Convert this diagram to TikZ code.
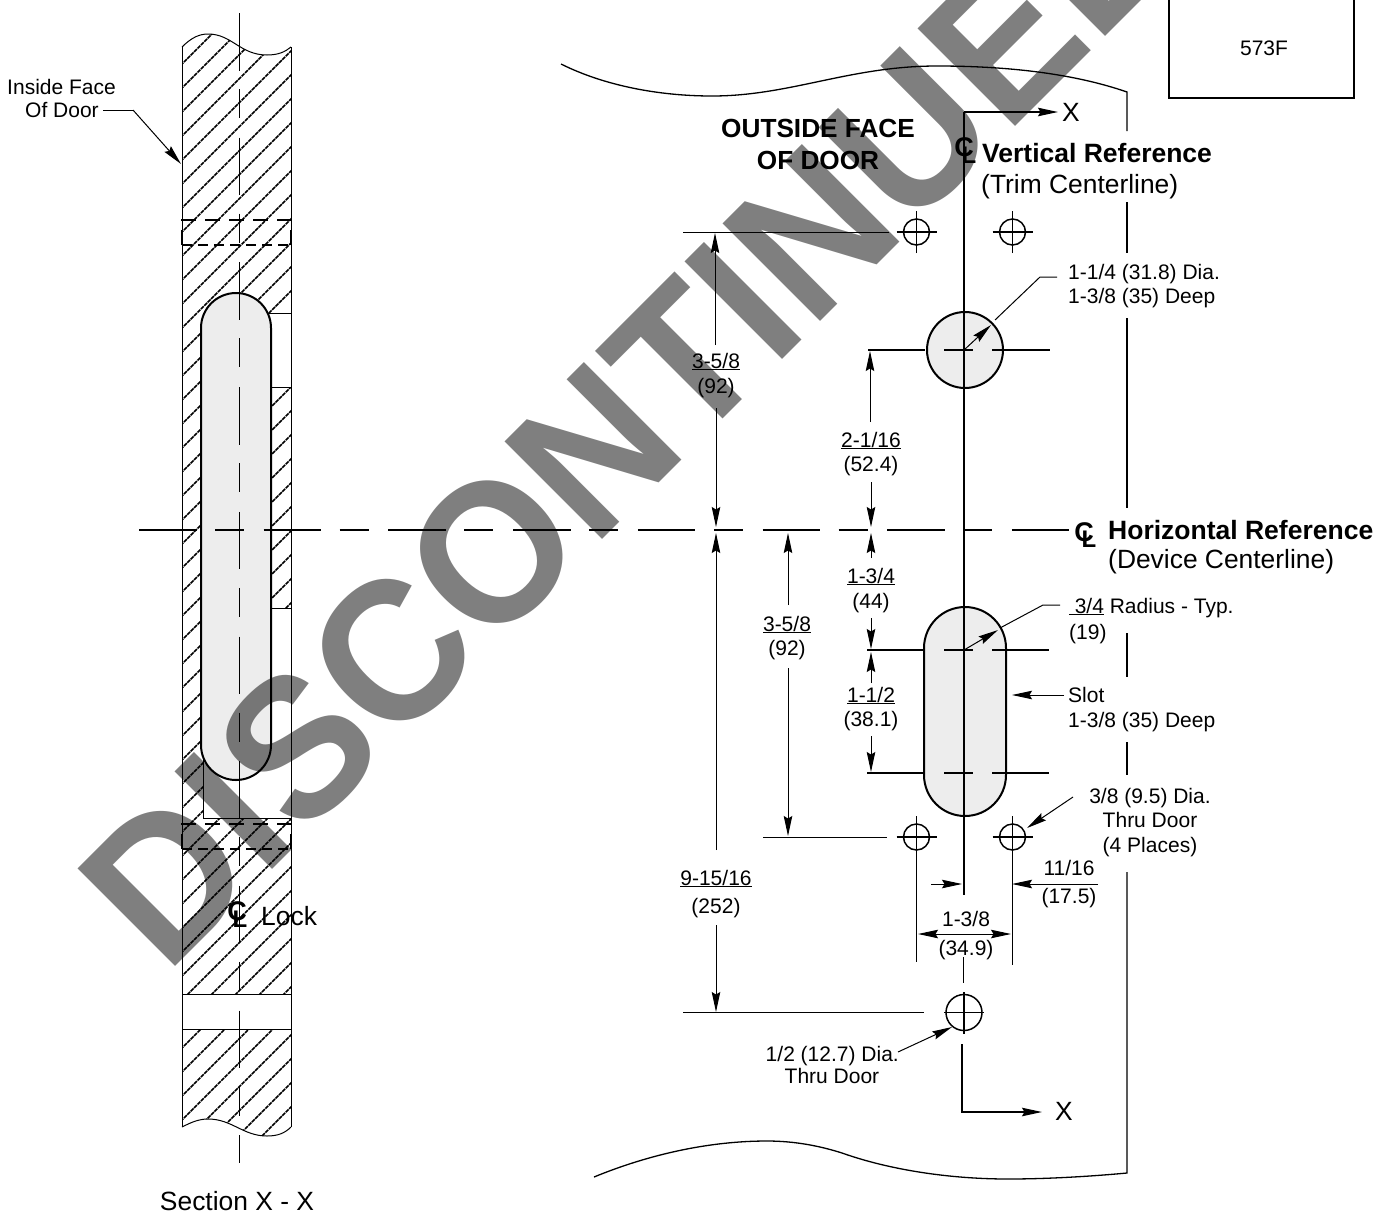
\documentclass[tikz,border=0pt]{standalone}
\usepackage{graphicx}
\usepackage{fontspec}
\setmainfont{Liberation Sans}
\usetikzlibrary{arrows.meta}
\definecolor{pocket}{HTML}{EDEDED}
\tikzset{
  lab/.style={inner sep=0pt,font=\fontsize{21pt}{24pt}\selectfont,anchor=base},
  bigt/.style={inner sep=0pt,font=\fontsize{26.4pt}{30pt}\selectfont,anchor=base},
  bigb/.style={inner sep=0pt,font=\fontsize{26.5pt}{30pt}\selectfont\bfseries,anchor=base},
  faceb/.style={inner sep=0pt,font=\fontsize{26.2pt}{30pt}\selectfont\bfseries,anchor=base},
  clc/.style={inner sep=0pt,font=\fontsize{27pt}{30pt}\selectfont\bfseries,anchor=center},
  cll/.style={inner sep=0pt,font=\fontsize{24pt}{30pt}\selectfont\bfseries,anchor=center},
  thin line/.style={line width=1pt,black},
  med line/.style={line width=1.5pt,black},
  thick line/.style={line width=2pt,black},
  dim/.style={line width=1pt,black,-{Stealth[length=20pt,width=8.5pt,inset=2.5pt]}},
  dimb/.style={line width=1pt,black,{Stealth[length=20pt,width=8.5pt,inset=2.5pt]}-{Stealth[length=20pt,width=8.5pt,inset=2.5pt]}},
  center long/.style={line width=1.5pt,black,dash pattern=on 57.5pt off 18.5pt on 29pt off 19.7pt},
  hatch/.style={line width=1.5pt,black,dash pattern=on 4pt off 0.8pt},
  hidden a/.style={line width=1.3pt,black,dash pattern=on 15pt off 9pt},
  hidden b/.style={line width=1.3pt,black,dash pattern=on 10pt off 6pt},
  wm/.style={inner sep=0pt,anchor=base west,rotate=45,text=black,text opacity=0.5,font=\fontsize{191pt}{200pt}\selectfont\bfseries}
}
\newcommand{\tgt}[4]{% name, x, y, r
  \node[inner sep=0pt,minimum size=0pt] (#1) at (#2,#3) {};
  \draw[med line] (#1) circle (#4pt);
  \draw[med line] ([xshift=-20pt]#1.center) -- ([xshift=20pt]#1.center);
  \draw[med line] ([yshift=-21pt]#1.center) -- ([yshift=21pt]#1.center);
}
\begin{document}
\begin{tikzpicture}[x=1pt,y=-1pt]
\useasboundingbox (0,0) rectangle (1377,1211);
% ---------- left section ----------
\begin{scope}
 \clip (182,47) .. controls (192,37) and (200,34) .. (208,34) .. controls (232,34) and (240,55) .. (267,55) .. controls (278,55) and (285,52) .. (291,47) -- (291,1127) .. controls (285,1133) and (278,1136) .. (267,1136) .. controls (243,1136) and (232,1119) .. (208,1119) .. controls (198,1119) and (190,1123) .. (182,1127) -- cycle;
 \foreach \k in {0,...,60} {
   \pgfmathsetmacro{\c}{222+24*\k}
   \draw[hatch] (150,\c-150) -- (320,\c-320);
 }
\end{scope}
\draw[thin line] (182,47) .. controls (192,37) and (200,34) .. (208,34) .. controls (232,34) and (240,55) .. (267,55) .. controls (278,55) and (285,52) .. (291,47);
\draw[thin line] (182,1127) .. controls (190,1123) and (198,1119) .. (208,1119) .. controls (232,1119) and (243,1136) .. (267,1136) .. controls (278,1136) and (285,1133) .. (291,1127);
\draw[thin line] (182,47) -- (182,1127);
\draw[thin line] (291,47) -- (291,1127);
\draw[thin line,fill=white] (262,313) rectangle (291,387);
\draw[thin line,fill=white] (203,608) rectangle (291,818);
\draw[thin line,fill=white] (182,994) rectangle (291,1029);
\draw[thick line,fill=pocket] (201,328) arc[start angle=180,end angle=360,x radius=35,y radius=35] -- (271,745) arc[start angle=0,end angle=180,x radius=35,y radius=35] -- cycle;
\draw[hidden a] (182,245) -- (182,220) -- (291,220) -- (291,245);
\draw[hidden b] (182,245) -- (291,245);
\draw[hidden a] (182,849) -- (182,824) -- (291,824) -- (291,849);
\draw[hidden b] (182,849) -- (291,849);
\draw[center long] (239.5,13) -- (239.5,1163);
% ---------- right door ----------
\draw[med line,line width=1.3pt] (561,64) .. controls (605,86) and (660,96) .. (712,96) .. controls (790,96) and (850,66) .. (937,66) .. controls (1010,66) and (1075,74) .. (1127,92) -- (1127,131);
\draw[med line] (1127,202) -- (1127,253);
\draw[med line] (1127,318) -- (1127,508);
\draw[med line] (1127,633) -- (1127,677);
\draw[med line] (1127,742) -- (1127,775);
\draw[med line,line width=1.3pt] (594,1177) .. controls (650,1154) and (710,1141) .. (767,1141) .. controls (795,1141) and (820,1146) .. (842,1153) .. controls (890,1170) and (950,1179) .. (1008,1179) .. controls (1050,1179) and (1095,1176) .. (1127,1173) -- (1127,872);
% prep box
\draw[thick line] (1169,-5) -- (1169,98) -- (1354,98) -- (1354,-5);
\node[inner sep=0pt,font=\fontsize{21pt}{24pt}\selectfont] (box) at (1264,48) {573F};
% round hole
\draw[thick line,fill=pocket] (965,350) circle (38pt);
% slot
\draw[thick line,fill=pocket] (924,648) arc[start angle=180,end angle=360,x radius=41,y radius=41] -- (1006,775) arc[start angle=0,end angle=180,x radius=41,y radius=41] -- cycle;
% center lines
\draw[center long] (139,530) -- (1070,530);
\draw[med line] (964,112) -- (964,895);
\draw[dim,line width=1.5pt] (964,112) -- (1058,112);
\node[bigt] (xtop) at (1071,121) {X};
\draw[med line] (963.5,957) -- (963.5,983);
\draw[dim,line width=1.5pt] (962,1044) -- (962,1112) -- (1042,1112);
\node[bigt] (xbot) at (1064,1120) {X};
% feature lines
\draw[med line] (868,350) -- (925,350);
\draw[med line] (944,350) -- (973,350);
\draw[med line] (992,350) -- (1050,350);
\draw[med line] (867,650) -- (924,650);
\draw[med line] (944,650) -- (973,650);
\draw[med line] (992,650) -- (1049,650);
\draw[med line] (867,773) -- (924,773);
\draw[med line] (944,773) -- (973,773);
\draw[med line] (992,773) -- (1049,773);
% targets
\tgt{ta}{916.5}{232}{13}
\tgt{tb}{1012.5}{232}{13}
\tgt{tc}{916.5}{837}{13}
\tgt{td}{1012.5}{837}{13}
\tgt{te}{964}{1012.5}{18}
% extension lines
\draw[thin line] (683,232.5) -- (889,232.5);
\draw[thin line] (763,837) -- (887,837);
\draw[thin line] (683,1012.5) -- (924,1012.5);
\draw[thin line] (916.5,855) -- (916.5,962);
\draw[thin line] (1012.5,855) -- (1012.5,965);
% dimensions
\draw[dim] (715,345) -- (715,233);
\node[lab] (d1a) at (716,368) {\underline{3-5/8}};
\node[lab] (d1b) at (716,393) {(92)};
\draw[dim] (716,408) -- (716,527);
\draw[dim] (716,850) -- (716,533);
\node[lab] (d2a) at (716,885) {\underline{9-15/16}};
\node[lab] (d2b) at (716,913) {(252)};
\draw[dim] (716,925) -- (716,1012);
\draw[dim] (788,605) -- (788,533);
\node[lab] (d3a) at (787,631) {\underline{3-5/8}};
\node[lab] (d3b) at (787,655) {(92)};
\draw[dim] (788,668) -- (788,836);
\draw[dim] (870,422) -- (870,351);
\node[lab] (d4a) at (871,447) {\underline{2-1/16}};
\node[lab] (d4b) at (871,471) {(52.4)};
\draw[dim] (871,482) -- (871,527);
\draw[dim] (871,558) -- (871,533);
\node[lab] (d5a) at (871,583) {\underline{1-3/4}};
\node[lab] (d5b) at (871,608) {(44)};
\draw[dim] (871,618) -- (871,649);
\draw[dim] (871,683) -- (871,652);
\node[lab] (d6a) at (871,702) {\underline{1-1/2}};
\node[lab] (d6b) at (871,726) {(38.1)};
\draw[dim] (871,736) -- (871,772);
\draw[dim] (931,884) -- (962,884);
\draw[dim] (1098,884) -- (1012,884);
\node[lab] (d7a) at (1069,875) {11/16};
\node[lab] (d7b) at (1069,903) {(17.5)};
\node[lab] (d8a) at (966,926) {1-3/8};
\draw[dimb] (918,934) -- (1011,934);
\node[lab] (d8b) at (966,955) {(34.9)};
% leaders
\draw[dim] (964,350) -- (991,325);
\draw[thin line] (995,320) -- (1040,277) -- (1057,277);
\draw[dim] (964,650) -- (998,630);
\draw[thin line] (1000,628) -- (1043,605) -- (1060,605);
\draw[dim] (1064,695) -- (1012,695);
\draw[dim] (1073,797) -- (1027,828);
\draw[dim] (898,1052) -- (952,1027);
\draw[dim] (133,110) -- (181,164);
\draw[thin line] (103,110) -- (133,110);
% texts
\node[lab,anchor=base east] (inf) at (116,94) {Inside Face};
\node[lab] (iof) at (62,117) {Of Door};
\node[bigt] (sec) at (237,1210) {Section X - X};
\node[clc] (cl1c) at (237,911) {C};
\node[cll] (cl1l) at (240,919) {L};
\node[bigt,anchor=base west] (lock) at (261,925) {Lock};
\node[faceb] (ofa) at (818,137) {OUTSIDE FACE};
\node[faceb] (ofb) at (818,169) {OF DOOR};
\node[clc] (cl2c) at (964,147.5) {C};
\node[cll] (cl2l) at (969,155) {L};
\node[bigb,anchor=base west] (vr) at (982,162) {Vertical Reference};
\node[bigt,anchor=base west] (vrb) at (981,193) {(Trim Centerline)};
\node[clc] (cl3c) at (1084,532) {C};
\node[cll] (cl3l) at (1089,539) {L};
\node[bigb,anchor=base west] (hr) at (1108,539) {Horizontal Reference};
\node[bigt,anchor=base west] (hrb) at (1108,568) {(Device Centerline)};
\node[lab,anchor=base west] (t1a) at (1068,279) {1-1/4 (31.8) Dia.};
\node[lab,anchor=base west] (t1b) at (1068,303) {1-3/8 (35) Deep};
\node[lab,anchor=base west] (t2a) at (1069,613) {\underline{\hspace{5.6pt}3/4} Radius - Typ.};
\node[lab,anchor=base west] (t2b) at (1069,639) {(19)};
\node[lab,anchor=base west] (t3a) at (1068,702) {Slot};
\node[lab,anchor=base west] (t3b) at (1068,727) {1-3/8 (35) Deep};
\node[lab] (t4a) at (1150,803) {3/8 (9.5) Dia.};
\node[lab] (t4b) at (1150,827) {Thru Door};
\node[lab] (t4c) at (1150,852) {(4 Places)};
\node[lab,anchor=base east] (t5a) at (899,1061) {1/2 (12.7) Dia.};
\node[lab] (t5b) at (832,1083) {Thru Door};
% watermark
\node[wm] (mark) at (166,976) {\scalebox{1}[1.05]{DISCONTINUED}};
\end{tikzpicture}
\end{document}
